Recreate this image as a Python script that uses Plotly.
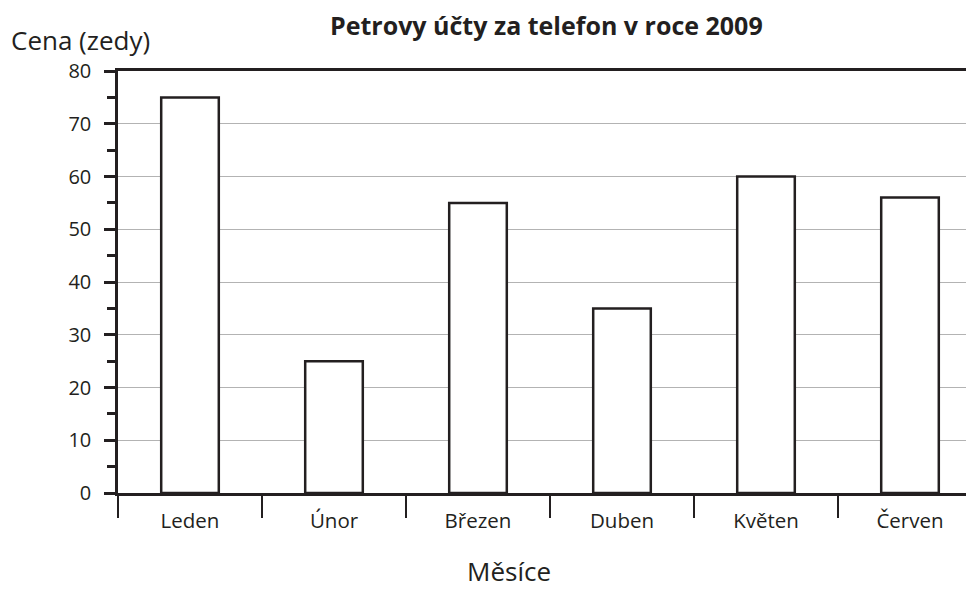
import plotly.graph_objects as go

months = ["Leden", "Únor", "Březen", "Duben", "Květen", "Červen"]
costs = [75, 25, 55, 35, 60, 56]

title_text = "Petrovy účty za telefon v roce 2009"
y_title = "Cena (zedy)"
x_title = "Měsíce"

ink = "#231f20"
font_family = "Open Sans"

# page body has an 8px offset; the figure is sized to fit the window
OFF = 8
W, H = 974 - OFF, 589 - OFF
L, T, R, B = 118 - OFF, 71 - OFF, 0, 96
PW, PH = W - L - R, H - T - B


def px_x(sx):
    return (sx - OFF - L) / PW


def px_y(sy):
    return 1 - (sy - OFF - T) / PH


fig = go.Figure()
fig.add_trace(go.Bar(
    x=months, y=costs,
    marker=dict(color="white", line=dict(color=ink, width=2.5)),
    width=0.4,
))

fig.update_layout(
    width=W, height=H,
    margin=dict(l=L, r=R, t=T, b=B, autoexpand=False),
    paper_bgcolor="white", plot_bgcolor="white",
    showlegend=False,
    font=dict(family=font_family, color=ink),
    xaxis=dict(
        type="category",
        range=[-0.5, -0.5 + PW / 144.0],
        showline=True, linecolor=ink, linewidth=2.5, mirror=True,
        ticks="outside", tickson="boundaries", ticklen=22, tickwidth=2, tickcolor=ink,
        tickfont=dict(size=20.5, color=ink, family=font_family),
        ticklabelstandoff=8,
        showgrid=False, zeroline=False,
    ),
    yaxis=dict(
        range=[0, 80], dtick=10, tick0=0,
        showline=True, linecolor=ink, linewidth=2.5,
        ticks="outside", ticklen=11, tickwidth=2.5, tickcolor=ink,
        tickfont=dict(size=20, color=ink, family=font_family),
        ticklabelstandoff=9,
        showgrid=True, gridcolor="#b3b3b3", gridwidth=1.2,
        zeroline=False,
        minor=dict(dtick=5, ticks="outside", ticklen=8, tickwidth=2.5, tickcolor=ink, showgrid=False),
    ),
    annotations=[
        dict(text="<b>" + title_text + "</b>", xref="paper", yref="paper",
             x=px_x(546), y=px_y(25), xanchor="center", yanchor="middle", borderpad=0,
             showarrow=False, font=dict(size=25, color=ink, family=font_family)),
        dict(text=y_title, xref="paper", yref="paper",
             x=px_x(9), y=px_y(40), xanchor="left", yanchor="middle",
             showarrow=False, font=dict(size=26, color=ink, family=font_family)),
        dict(text=x_title, xref="paper", yref="paper",
             x=px_x(509), y=px_y(571), xanchor="center", yanchor="middle",
             showarrow=False, font=dict(size=26, color=ink, family=font_family)),
    ],
)

fig.write_html("out.html")
